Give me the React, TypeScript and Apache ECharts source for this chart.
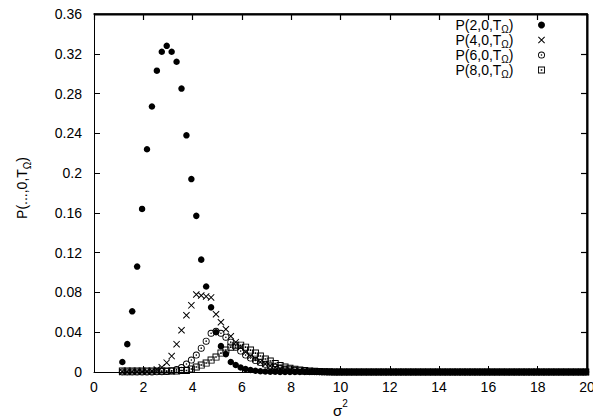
import React, { useEffect, useRef } from "react";
import * as echarts from "echarts";

// sigma^2 sample positions
const sigma2 = [
  1.15, 1.35, 1.55, 1.75, 1.95, 2.15, 2.35, 2.55, 2.75, 2.95,
  3.15, 3.35, 3.55, 3.75, 3.95, 4.15, 4.35, 4.55, 4.75, 4.95,
  5.15, 5.35, 5.55, 5.75, 5.95, 6.15, 6.35, 6.55, 6.75, 6.95,
  7.15, 7.35, 7.55, 7.75, 7.95, 8.15, 8.35, 8.55, 8.75, 8.95,
  9.15, 9.35, 9.55, 9.75, 9.95, 10.15, 10.35, 10.55, 10.75, 10.95,
  11.15, 11.35, 11.55, 11.75, 11.95, 12.15, 12.35, 12.55, 12.75, 12.95,
  13.15, 13.35, 13.55, 13.75, 13.95, 14.15, 14.35, 14.55, 14.75, 14.95,
  15.15, 15.35, 15.55, 15.75, 15.95, 16.15, 16.35, 16.55, 16.75, 16.95,
  17.15, 17.35, 17.55, 17.75, 17.95, 18.15, 18.35, 18.55, 18.75, 18.95,
  19.15, 19.35, 19.55, 19.75, 19.95,
];

const p2 = [
  0.010, 0.028, 0.061, 0.106, 0.164, 0.224, 0.267, 0.303, 0.322, 0.328,
  0.322, 0.312, 0.285, 0.238, 0.194, 0.157, 0.113, 0.086, 0.065, 0.040,
  0.026, 0.018, 0.010, 0.007, 0.0045, 0.003, 0.002, 0.0012, 0.0008, 0.0005,
  0.0003, 0.0002, 0, 0, 0, 0, 0, 0, 0, 0,
  0, 0, 0, 0, 0, 0, 0, 0, 0, 0,
  0, 0, 0, 0, 0, 0, 0, 0, 0, 0,
  0, 0, 0, 0, 0, 0, 0, 0, 0, 0,
  0, 0, 0, 0, 0, 0, 0, 0, 0, 0,
  0, 0, 0, 0, 0, 0, 0, 0, 0, 0,
  0, 0, 0, 0, 0,
];

const p4 = [
  0, 0, 0.0001, 0.0002, 0.0003, 0.0005, 0.001, 0.0025, 0.0047, 0.0094,
  0.016, 0.028, 0.042, 0.057, 0.067, 0.078, 0.077, 0.076, 0.075, 0.058,
  0.050, 0.043, 0.036, 0.030, 0.025, 0.020, 0.016, 0.013, 0.010, 0.008,
  0.006, 0.0045, 0.0033, 0.0024, 0.0017, 0.0012, 0.0008, 0.0005, 0.0003, 0.0002,
  0, 0, 0, 0, 0, 0, 0, 0, 0, 0,
  0, 0, 0, 0, 0, 0, 0, 0, 0, 0,
  0, 0, 0, 0, 0, 0, 0, 0, 0, 0,
  0, 0, 0, 0, 0, 0, 0, 0, 0, 0,
  0, 0, 0, 0, 0, 0, 0, 0, 0, 0,
  0, 0, 0, 0, 0,
];

const p6 = [
  0, 0, 0, 0, 0, 0.0001, 0.0001, 0.0002, 0.0003, 0.0006,
  0.0012, 0.0025, 0.0045, 0.008, 0.012, 0.017, 0.024, 0.031, 0.039, 0.041,
  0.039, 0.035, 0.030, 0.025, 0.021, 0.017, 0.014, 0.0115, 0.0095, 0.0077,
  0.0062, 0.005, 0.004, 0.003, 0.0023, 0.0017, 0.0012, 0.0009, 0.0006, 0.0004,
  0.0003, 0.0002, 0, 0, 0, 0, 0, 0, 0, 0,
  0, 0, 0, 0, 0, 0, 0, 0, 0, 0,
  0, 0, 0, 0, 0, 0, 0, 0, 0, 0,
  0, 0, 0, 0, 0, 0, 0, 0, 0, 0,
  0, 0, 0, 0, 0, 0, 0, 0, 0, 0,
  0, 0, 0, 0, 0,
];

const p8 = [
  0.001, 0.001, 0.001, 0.001, 0.001, 0.001, 0.001, 0.001, 0.001, 0.001,
  0.001, 0.001, 0.0015, 0.0015, 0.003, 0.005, 0.007, 0.009, 0.012, 0.015,
  0.019, 0.022, 0.025, 0.027, 0.027, 0.025, 0.022, 0.019, 0.016, 0.013,
  0.011, 0.0085, 0.0065, 0.005, 0.0037, 0.0027, 0.002, 0.0014, 0.001, 0.0007,
  0.0005, 0.0003, 0.0002, 0, 0, 0, 0, 0, 0, 0,
  0, 0, 0, 0, 0, 0, 0, 0, 0, 0,
  0, 0, 0, 0, 0, 0, 0, 0, 0, 0,
  0, 0, 0, 0, 0, 0, 0, 0, 0, 0,
  0, 0, 0, 0, 0, 0, 0, 0, 0, 0,
  0, 0, 0, 0, 0,
];

const seriesNames = ["P(2,0,TΩ)", "P(4,0,TΩ)", "P(6,0,TΩ)", "P(8,0,TΩ)"];
const seriesValues = [p2, p4, p6, p8];

const X_MIN = 0;
const X_MAX = 20;
const X_STEP = 2;
const Y_MIN = 0;
const Y_MAX = 0.36;
const Y_STEP = 0.04;

const GRID = { left: 94, right: 6, top: 14, bottom: 46 };
const W = 593;
const H = 418;

const FONT = '"Liberation Sans", Arial, Helvetica, sans-serif';

const CIRCLE_DOT =
  "path://M0,-10A10,10,0,1,1,0,10A10,10,0,1,1,0,-10ZM0,-7.4A7.4,7.4,0,1,0,0,7.4A7.4,7.4,0,1,0,0,-7.4ZM0,-2.3A2.3,2.3,0,1,1,0,2.3A2.3,2.3,0,1,1,0,-2.3Z";
const SQUARE_DOT =
  "path://M-10,-10H10V10H-10ZM-7.4,-7.4V7.4H7.4V-7.4ZM-2.2,-2.2H2.2V2.2H-2.2Z";
const CROSS =
  "path://M-10,-8L-8,-10L10,8L8,10ZM8,-10L10,-8L-8,10L-10,8Z";

const symbols = ["circle", CROSS, CIRCLE_DOT, SQUARE_DOT];
const symbolSizes = [6.5, 7, 7, 7];

const rich = {
  m: { fontSize: 14, lineHeight: 15, verticalAlign: "top", fontFamily: FONT, color: "#000" },
  sub: { fontSize: 10, lineHeight: 10, padding: [7, 0, 0, 0], verticalAlign: "top", fontFamily: FONT, color: "#000" },
  sup: { fontSize: 10, lineHeight: 10, verticalAlign: "top", fontFamily: FONT, color: "#000" },
  mx: { fontSize: 15, lineHeight: 15, padding: [4, 0, 0, 0], verticalAlign: "top", fontFamily: FONT, color: "#000" },
};

const fmtY = (v: number) => String(parseFloat(v.toFixed(2)));

const mkLine = (w: number) => ({ show: true, onZero: false, lineStyle: { color: "#000", width: w } });
const mkTick = (w: number) => ({ show: true, inside: true, length: 6, lineStyle: { color: "#000", width: w } });

export default function App() {
  const ref = useRef<HTMLDivElement>(null);
  useEffect(() => {
    if (!ref.current) return;
    const chart = echarts.init(ref.current, null, { renderer: "svg" });
    const labelStyle = { color: "#000", fontSize: 14, fontFamily: FONT };
    const dataSeries = seriesNames.map((name, k) => ({
      type: "scatter",
      name,
      xAxisIndex: 0,
      yAxisIndex: 0,
      data: sigma2.map((x, i) => [x, seriesValues[k][i]]),
      symbol: symbols[k],
      symbolSize: symbolSizes[k],
      itemStyle: { color: "#000", opacity: 1 },
      clip: false,
      silent: true,
      emphasis: { disabled: true },
    }));
    const x0 = GRID.left;
    const x1 = W - GRID.right;
    const y0 = GRID.top;
    const y1 = H - GRID.bottom;
    const option: any = {
      animation: false,
      backgroundColor: "#fff",
      grid: { ...GRID, outerBoundsMode: "none", containLabel: false },
      graphic: [
        {
          type: "line",
          silent: true,
          z: 100,
          shape: { x1: x0, y1: y0 + 0.5, x2: x1 + 1, y2: y0 + 0.5 },
          style: { stroke: "#000", lineWidth: 2 },
        },
        {
          type: "line",
          silent: true,
          z: 100,
          shape: { x1: x1 + 0.5, y1: y0, x2: x1 + 0.5, y2: y1 + 1 },
          style: { stroke: "#000", lineWidth: 2 },
        },
      ],
      legend: {
        orient: "vertical",
        right: 48,
        top: 17.5,
        align: "right",
        itemWidth: 46,
        itemHeight: 7,
        itemGap: -2,
        padding: 0,
        selectedMode: false,
        data: seriesNames,
        formatter: (name: string) => {
          const parts = name.split("Ω");
          return `{m|${parts[0]}}{sub|Ω}{m|${parts[1]}}`;
        },
        textStyle: { rich, fontFamily: FONT, fontSize: 14, color: "#000" },
      },
      xAxis: [
        {
          type: "value",
          min: X_MIN,
          max: X_MAX,
          interval: X_STEP,
          position: "bottom",
          axisLine: mkLine(1),
          axisTick: mkTick(1),
          splitLine: { show: false },
          axisLabel: { ...labelStyle, margin: 8 },
          name: "{mx|σ}{sup|2}",
          nameLocation: "middle",
          nameGap: 22,
          nameTextStyle: { rich },
        },
        {
          type: "value",
          min: X_MIN,
          max: X_MAX,
          interval: X_STEP,
          position: "top",
          axisLine: mkLine(1.5),
          axisTick: mkTick(1.2),
          splitLine: { show: false },
          axisLabel: { show: false },
        },
      ],
      yAxis: [
        {
          type: "value",
          min: Y_MIN,
          max: Y_MAX,
          interval: Y_STEP,
          position: "left",
          axisLine: mkLine(1),
          axisTick: mkTick(1),
          splitLine: { show: false },
          axisLabel: { ...labelStyle, margin: 12, formatter: fmtY },
          name: "{m|P(...,0,T}{sub|Ω}{m|)}",
          nameLocation: "middle",
          nameGap: 64,
          nameRotate: 90,
          nameTextStyle: { rich, padding: [0, 0, 0, 10] },
        },
        {
          type: "value",
          min: Y_MIN,
          max: Y_MAX,
          interval: Y_STEP,
          position: "right",
          axisLine: mkLine(1.5),
          axisTick: mkTick(1.2),
          splitLine: { show: false },
          axisLabel: { show: false },
        },
      ],
      series: dataSeries,
    };
    chart.setOption(option);
    return () => chart.dispose();
  }, []);
  return (
    <div
      ref={ref}
      style={{ position: "fixed", left: 0, top: 0, width: W, height: H, background: "#fff" }}
    />
  );
}
